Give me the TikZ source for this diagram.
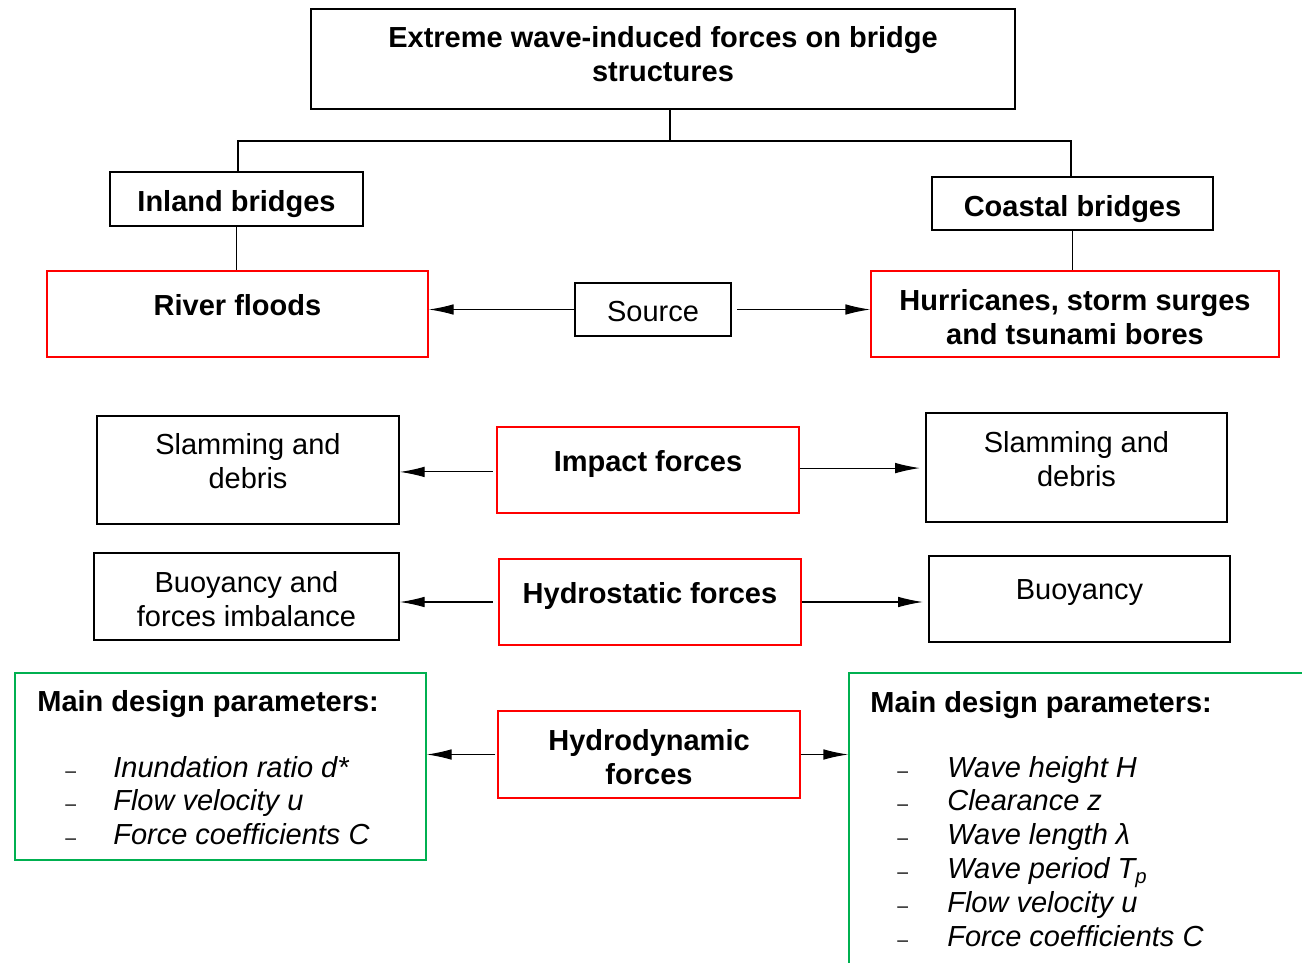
\documentclass[tikz,border=0pt]{standalone}
\usepackage{fontspec}
\setmainfont{Liberation Sans}
\usetikzlibrary{arrows.meta}

\definecolor{boxred}{RGB}{255,0,0}
\definecolor{pargreen}{RGB}{0,176,80}
% invisible rules that push the text up or down inside a box
\newcommand{\txtup}[1]{\rule[-#1]{0pt}{#1}}
\newcommand{\txtdn}[1]{\rule{0pt}{#1}}
% small list dash in a box of given width
\newcommand{\dsh}[1]{\makebox[#1][l]{\fontsize{11}{11}\selectfont –}}

\begin{document}
\begin{tikzpicture}[x=0.02cm, y=-0.02cm,
    every node/.append style={font=\fontsize{16.5}{19.3}\selectfont, inner sep=0pt},
    boldtxt/.style={font=\fontsize{16.5}{19.3}\selectfont\bfseries},
    blackbox/.style={draw=black, line width=1.1pt, align=center},
    redbox/.style={draw=boxred, line width=1.1pt, align=center, boldtxt},
    greenbox/.style={draw=pargreen, line width=1.1pt},
    conn/.style={line width=1.1pt},
    arr/.style={line width=0.6pt, -{Latex[length=14pt, width=6pt]}}]
    \useasboundingbox (0,0) rectangle (1302,963);
    \clip (0,0) rectangle (1302,963);

    % Top of the tree
    \node[blackbox, boldtxt, minimum width=14.08cm, minimum height=2cm] (title) at (663,59)
        {Extreme wave-induced forces on bridge\\structures\txtup{5.7pt}};
    \node[blackbox, boldtxt, minimum width=5.06cm, minimum height=1.08cm] (inland) at (236.5,199) {\txtdn{17.7pt}Inland bridges};
    \node[blackbox, boldtxt, minimum width=5.62cm, minimum height=1.06cm] (coastal) at (1072.5,203.5) {\txtdn{18.8pt}Coastal bridges};
    \coordinate (split) at (670,141);
    \draw[conn] (title.south -| split) -- (split);
    \draw[conn] ([xshift=0.8pt]inland.north) |- (split) -| ([xshift=-0.8pt]coastal.north);

    % Sources
    \node[redbox, minimum width=7.62cm, minimum height=1.72cm] (river) at (237.5,314) {River floods\txtup{10.3pt}};
    \node[redbox, minimum width=8.16cm, minimum height=1.72cm] (hurr) at (1075,314) {\txtdn{15.4pt}Hurricanes, storm surges\\and tsunami bores};
    \node[blackbox, minimum width=3.12cm, minimum height=1.06cm] (source) at (653,309.5) {\txtdn{14.3pt}Source};
    \draw[conn] (inland.south) -- (inland.south |- river.north);
    \draw[conn] (coastal.south) -- (coastal.south |- hurr.north);
    \draw[arr] (source.west) -- (source.west -| river.east);
    \draw[arr, shorten <=3pt] (source.east) -- (source.east -| hurr.west);

    % Impact forces
    \node[blackbox, minimum width=6.04cm, minimum height=2.16cm] (slamL) at (248,470) {Slamming and\\debris\txtup{10.2pt}};
    \node[redbox, minimum width=6.04cm, minimum height=1.72cm] (impact) at (648,470) {Impact forces\txtup{10.3pt}};
    \node[blackbox, minimum width=6.02cm, minimum height=2.18cm] (slamR) at (1076.5,467.5) {Slamming and\\debris\txtup{9.6pt}};
    \draw[arr, shorten <=2pt] ([yshift=-1.1pt]impact.west) -- ([yshift=-1.1pt]impact.west -| slamL.east);
    \draw[arr, shorten >=3pt] ([yshift=1.1pt]impact.east) -- ([yshift=1.1pt]impact.east -| slamR.west);

    % Hydrostatic forces
    \node[blackbox, minimum width=6.10cm, minimum height=1.74cm] (buoyL) at (246.5,596.5) {\txtdn{15.4pt}Buoyancy and\\forces imbalance};
    \node[redbox, minimum width=6.04cm, minimum height=1.72cm] (hstat) at (650,602) {Hydrostatic forces\txtup{10.3pt}};
    \node[blackbox, minimum width=6.02cm, minimum height=1.72cm] (buoyR) at (1079.5,599) {Buoyancy\txtup{10.3pt}};
    \draw[arr, shorten <=3pt] (hstat.west) -- (hstat.west -| buoyL.east);
    \draw[arr, shorten >=3pt] (hstat.east) -- (hstat.east -| buoyR.west);

    % Hydrodynamic forces and design parameters
    \node[redbox, minimum width=6.04cm, minimum height=1.74cm] (hdyn) at (649,754.5) {\txtdn{15.4pt}Hydrodynamic\\forces};
    \node[greenbox, minimum width=8.22cm, minimum height=3.74cm] (parL) at (220.5,766.5) {};
    \node[greenbox, minimum width=9.62cm, minimum height=6.54cm] (parR) at (1089.5,836.5) {};
    \draw[arr, shorten <=1pt] (hdyn.west) -- (hdyn.west -| parL.east);
    \draw[arr] (hdyn.east) -- (hdyn.east -| parR.west);

    \node[boldtxt, anchor=base west] (parLhead) at (37,711) {Main design parameters:};
    \node[anchor=base west] (parLlist) at (65,777) {\begin{tabular}[t]{@{}l@{}l@{}}
        \dsh{0.96cm} & \textit{Inundation ratio d*}\\
        \dsh{0.96cm} & \textit{Flow velocity u}\\
        \dsh{0.96cm} & \textit{Force coefficients C}
    \end{tabular}};

    \node[boldtxt, anchor=base west] (parRhead) at (870,712) {Main design parameters:};
    \node[anchor=base west] (parRlist) at (897,777) {\begin{tabular}[t]{@{}l@{}l@{}}
        \dsh{1cm} & \textit{Wave height H}\\
        \dsh{1cm} & \textit{Clearance z}\\
        \dsh{1cm} & \textit{Wave length λ}\\
        \dsh{1cm} & \textit{Wave period T\textsubscript{p}}\\
        \dsh{1cm} & \textit{Flow velocity u}\\
        \dsh{1cm} & \textit{Force coefficients C}
    \end{tabular}};
\end{tikzpicture}
\end{document}
